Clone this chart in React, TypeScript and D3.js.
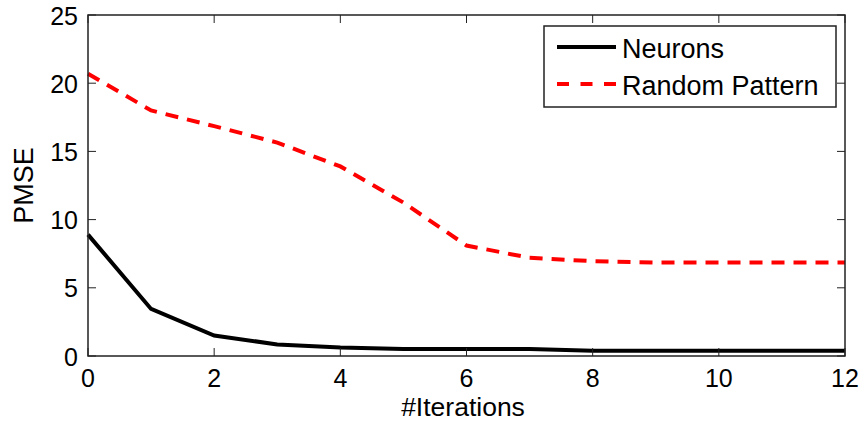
import React from "react";
import * as d3 from "d3";

const iterations = [0, 1, 2, 3, 4, 5, 6, 7, 8, 9, 10, 11, 12];
const neurons = [8.9, 3.45, 1.5, 0.85, 0.62, 0.52, 0.52, 0.52, 0.38, 0.38, 0.38, 0.38, 0.38];
const randomPattern = [20.7, 18.0, 16.85, 15.65, 13.9, 11.25, 8.1, 7.2, 6.95, 6.85, 6.85, 6.85, 6.85];
const xTicks = [0, 2, 4, 6, 8, 10, 12];
const yTicks = [0, 5, 10, 15, 20, 25];
const seriesNames = ["Neurons", "Random Pattern"];

const W = 862;
const H = 423;
const L = 88, R = 845, T = 15, B = 356;
const FONT = "'Liberation Sans', Arial, sans-serif";

export default function App() {
  const x = d3.scaleLinear().domain([0, 12]).range([L, R]);
  const y = d3.scaleLinear().domain([0, 25]).range([B, T]);
  const line = d3.line<number>().x((_, i) => x(iterations[i])).y((d) => y(d));
  const tl = 8;
  return (
    <svg width={W} height={H} style={{ position: "absolute", left: 0, top: 0, background: "#fff" }}>
      <rect x={0} y={0} width={W} height={H} fill="#fff" />
      <path d={line(randomPattern) || ""} fill="none" stroke="#ff0000" strokeWidth={4} strokeDasharray="13,9" />
      <path d={line(neurons) || ""} fill="none" stroke="#000" strokeWidth={4} />
      <rect x={L} y={T} width={R - L} height={B - T} fill="none" stroke="#222" strokeWidth={1.5} />
      {xTicks.map((t) => (
        <g key={"x" + t}>
          <line x1={x(t)} x2={x(t)} y1={B} y2={B - tl} stroke="#222" strokeWidth={1} />
          <line x1={x(t)} x2={x(t)} y1={T} y2={T + tl} stroke="#222" strokeWidth={1} />
          <text x={x(t)} y={387} textAnchor="middle" fontFamily={FONT} fontSize={25} fill="#000">{t}</text>
        </g>
      ))}
      {yTicks.map((t) => (
        <g key={"y" + t}>
          <line x1={L} x2={L + tl} y1={y(t)} y2={y(t)} stroke="#222" strokeWidth={1} />
          <line x1={R} x2={R - tl} y1={y(t)} y2={y(t)} stroke="#222" strokeWidth={1} />
          <text x={L - 10} y={y(t) + 9.5} textAnchor="end" fontFamily={FONT} fontSize={25} fill="#000">{t}</text>
        </g>
      ))}
      <text x={463} y={415.5} textAnchor="middle" fontFamily={FONT} fontSize={26.5} fill="#000">#Iterations</text>
      <text transform={`translate(33,${(T + B) / 2}) rotate(-90)`} textAnchor="middle" fontFamily={FONT} fontSize={27} fill="#000">PMSE</text>
      <g>
        <rect x={544} y={26} width={292} height={81} fill="#fff" stroke="#222" strokeWidth={1.5} />
        <line x1={557} x2={616} y1={47} y2={47} stroke="#000" strokeWidth={4} />
        <line x1={557} x2={616} y1={84} y2={84} stroke="#ff0000" strokeWidth={4} strokeDasharray="12,11.5" />
        <text x={622} y={57.5} fontFamily={FONT} fontSize={27} fill="#000">{seriesNames[0]}</text>
        <text x={622} y={94.5} fontFamily={FONT} fontSize={27} fill="#000">{seriesNames[1]}</text>
      </g>
    </svg>
  );
}
